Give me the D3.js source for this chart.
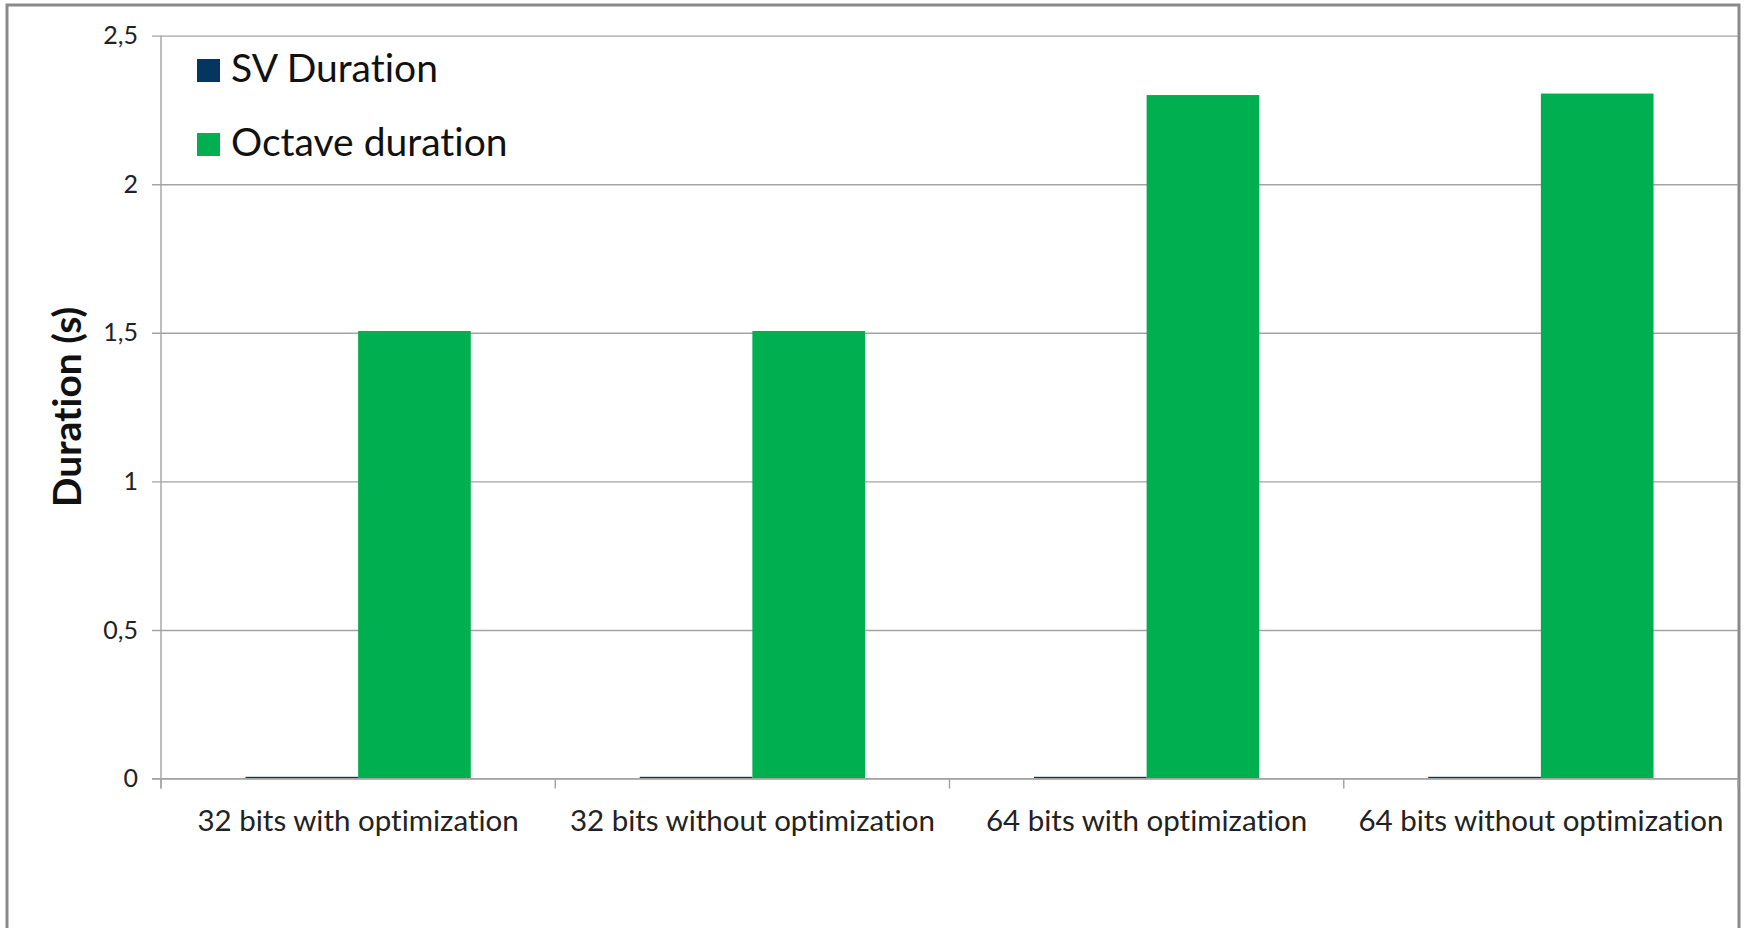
<!DOCTYPE html>
<html>
<head>
<meta charset="utf-8">
<script src="https://cdn.jsdelivr.net/npm/d3@7"></script>
<style>
  html, body { margin: 0; padding: 0; background: #fff; }
  svg { display: block; font-family: Lato, "Open Sans", sans-serif; font-variant-ligatures: none; font-feature-settings: "liga" 0, "clig" 0; }
</style>
</head>
<body>
<svg id="chart" width="1744" height="928"></svg>
<script>
// Run configurations on the x axis
const categories = [
  "32 bits with optimization",
  "32 bits without optimization",
  "64 bits with optimization",
  "64 bits without optimization"
];
// Series names as shown in the legend
const seriesNames = ["SV Duration", "Octave duration"];
// Durations in seconds, one value per configuration
const svDuration     = [0.006, 0.006, 0.006, 0.006];
const octaveDuration = [1.506, 1.506, 2.300, 2.305];
// Value axis ticks and their labels (decimal comma)
const yTicks      = [0, 0.5, 1, 1.5, 2, 2.5];
const yTickLabels = ["0", "0,5", "1", "1,5", "2", "2,5"];
const yTitle = "Duration (s)";

const seriesValues = [svDuration, octaveDuration];
const colors = ["#04365F", "#00B050"];

const svg = d3.select("#chart");
const plot = { left: 161, right: 1738, top: 35.6, bottom: 778.6 };
const gridColor = "#a3a3a3";

// outer chart frame (bottom edge runs past the page)
svg.append("rect")
  .attr("x", 7).attr("y", 5)
  .attr("width", 1732).attr("height", 1000)
  .attr("fill", "#fff")
  .attr("stroke", "#8a8a8a")
  .attr("stroke-width", 3);

const x0 = d3.scaleBand().domain(categories).range([plot.left, plot.right]).padding(0);
// 150% gap between clusters: 0.75 bar width of outer padding on each side
const x1 = d3.scaleBand().domain(seriesNames).range([0, x0.bandwidth()])
  .paddingInner(0).paddingOuter(0.75);
const y = d3.scaleLinear().domain([0, 2.5]).range([plot.bottom, plot.top]);

// horizontal gridlines with left tick marks and labels
const yAxis = d3.axisLeft(y)
  .tickValues(yTicks)
  .tickSize(-(plot.right - plot.left))
  .tickPadding(14)
  .tickFormat((d, i) => yTickLabels[i]);

const gy = svg.append("g")
  .attr("transform", `translate(${plot.left},0)`)
  .call(yAxis);
gy.select(".domain").remove();
gy.selectAll(".tick line")
  .attr("x1", -9)
  .attr("stroke", gridColor)
  .attr("stroke-width", 1.4);
gy.selectAll(".tick text")
  .attr("x", -23)
  .attr("fill", "#222")
  .style("font-size", "25px")
  .style("font-family", "Lato, sans-serif");

// vertical value axis line
svg.append("line")
  .attr("x1", plot.left).attr("x2", plot.left)
  .attr("y1", plot.top).attr("y2", plot.bottom + 10)
  .attr("stroke", gridColor).attr("stroke-width", 1.4);

// category axis: tick marks between categories, labels centred
const gx = svg.append("g")
  .attr("transform", `translate(0,${plot.bottom})`);
const boundaries = categories.map(c => x0(c)).concat([plot.right]);
gx.selectAll("line.cat-tick")
  .data(boundaries)
  .join("line")
  .attr("class", "cat-tick")
  .attr("x1", d => d).attr("x2", d => d)
  .attr("y1", 0).attr("y2", 10)
  .attr("stroke", gridColor).attr("stroke-width", 1.4);

gx.selectAll("text")
  .data(categories)
  .join("text")
  .attr("x", d => x0(d) + x0.bandwidth() / 2)
  .attr("y", 52)
  .attr("text-anchor", "middle")
  .attr("fill", "#222")
  .style("font-size", "29.5px")
  .text(d => d);

// bars
const groups = svg.append("g").selectAll("g")
  .data(categories)
  .join("g")
  .attr("transform", d => `translate(${x0(d)},0)`);

groups.selectAll("rect")
  .data((c, i) => seriesNames.map((s, k) => ({ s, k, v: seriesValues[k][i] })))
  .join("rect")
  .attr("x", d => x1(d.s))
  .attr("width", x1.bandwidth())
  .attr("y", d => y(d.v))
  .attr("height", d => y(0) - y(d.v))
  .attr("fill", d => colors[d.k]);

// redraw baseline over bars
svg.append("line")
  .attr("x1", plot.left - 9).attr("x2", plot.right)
  .attr("y1", plot.bottom).attr("y2", plot.bottom)
  .attr("stroke", gridColor).attr("stroke-width", 1.4);

// y axis title
svg.append("text")
  .attr("transform", `translate(81,407) rotate(-90)`)
  .attr("text-anchor", "middle")
  .attr("fill", "#111")
  .style("font-size", "39px")
  .style("font-weight", "bold")
  .text(yTitle);

// legend
const legend = svg.append("g").attr("transform", "translate(197,59)");
const li = legend.selectAll("g")
  .data(seriesNames)
  .join("g")
  .attr("transform", (d, i) => `translate(0,${i * 74})`);
li.append("rect")
  .attr("width", 23).attr("height", 23)
  .attr("fill", (d, i) => colors[i]);
li.append("text")
  .attr("x", 34).attr("y", 23)
  .attr("fill", "#111")
  .style("font-size", "39px")
  .text(d => d);
</script>
</body>
</html>
